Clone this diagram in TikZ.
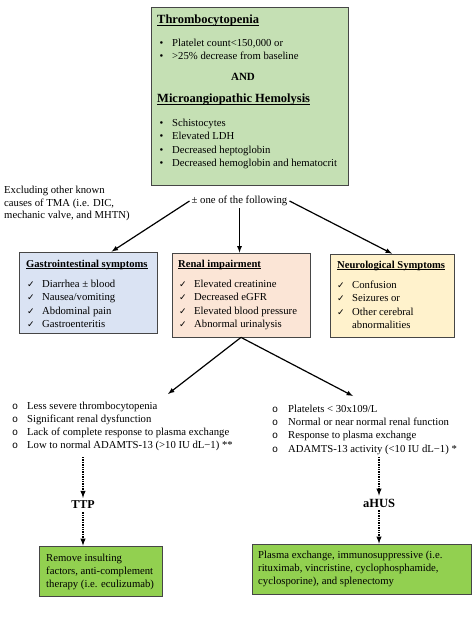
\documentclass[tikz,border=0pt]{standalone}
\usepackage{fontspec}
\setmainfont{Liberation Serif}
\newfontfamily\chkfont{DejaVu Sans}
\newfontfamily\circfont{Liberation Mono}
\definecolor{CritGreen}{RGB}{197,224,180}
\definecolor{GiBlue}{RGB}{218,227,243}
\definecolor{RenalPeach}{RGB}{251,229,214}
\definecolor{NeuroYellow}{RGB}{255,242,204}
\definecolor{TxGreen}{RGB}{146,208,80}
\definecolor{BoxLine}{RGB}{70,70,70}
\usetikzlibrary{shapes,arrows}
\newcommand{\ulhead}[1]{\setbox0=\hbox{#1}\rlap{\rule[-1.4pt]{\wd0}{0.7pt}}\box0}

\begin{document}
\begin{tikzpicture}[x=1pt,y=-1pt]
				\tikzstyle{every node}=[inner sep=0pt, font=\fontsize{10.7}{13}\selectfont];
				\tikzstyle{box}=[draw=BoxLine, line width=0.8pt, shape=rectangle];
				\tikzstyle{txt}=[anchor=base west];
				\tikzstyle{head}=[anchor=base west, font=\fontsize{10.6}{13}\selectfont\bfseries];
				\tikzstyle{big}=[anchor=base west, font=\fontsize{12.5}{15}\selectfont\bfseries];
				\tikzstyle{chk}=[anchor=base west, font=\fontsize{9}{13}\selectfont\chkfont];
				\tikzstyle{circ}=[anchor=base west, font=\fontsize{10}{13}\selectfont\circfont];
				\tikzstyle{arr}=[-latex, line width=1.2pt];
				\tikzstyle{dotarr}=[-latex, line width=1.4pt, densely dotted];
				\useasboundingbox (0,0) rectangle (474,620);
				\node [box, fill=CritGreen, minimum width=197, minimum height=178] (crit) at (249.5,96) {};
				\node [big] (h1) at (157,24) {\ulhead{Thrombocytopenia}};
				\node [txt] (b11) at (159.5,47) {•};
				\node [txt] (p11) at (172,47) {Platelet count<150,000 or};
				\node [txt] (b12) at (159.5,60) {•};
				\node [txt] (p12) at (172,60) {>25\% decrease from baseline};
				\node [anchor=base, font=\fontsize{11}{13}\selectfont\bfseries] (and) at (243,81) {AND};
				\node [big] (h2) at (157,103) {\ulhead{Microangiopathic Hemolysis}};
				\node [txt] (b21) at (159.5,127) {•};
				\node [txt] (p21) at (172,127) {Schistocytes};
				\node [txt] (b22) at (159.5,140) {•};
				\node [txt] (p22) at (172,140) {Elevated LDH};
				\node [txt] (b23) at (159.5,153.5) {•};
				\node [txt] (p23) at (172,153.5) {Decreased heptoglobin};
				\node [txt] (b24) at (159.5,167) {•};
				\node [txt] (p24) at (172,167) {Decreased hemoglobin and hematocrit};
				\node [anchor=north west, align=left, font=\fontsize{10.7}{12.5}\selectfont] (note) at (4,186) {Excluding other known\\causes of TMA (i.e. DIC,\\mechanic valve, and MHTN)};
				\node [inner sep=2pt] (one) at (239.5,201) {± one of the following};
				\node [box, fill=GiBlue, minimum width=138, minimum height=81] (gi) at (88,292.5) {};
				\node [head] (gih) at (26,267) {\ulhead{Gastrointestinal symptoms}};
				\node [chk] (gc1) at (27,287) {✓};
				\node [txt] (gi1) at (42,287) {Diarrhea ± blood};
				\node [chk] (gc2) at (27,300) {✓};
				\node [txt] (gi2) at (42,300) {Nausea/vomiting};
				\node [chk] (gc3) at (27,314) {✓};
				\node [txt] (gi3) at (42,314) {Abdominal pain};
				\node [chk] (gc4) at (27,327) {✓};
				\node [txt] (gi4) at (42,327) {Gastroenteritis};
				\node [box, fill=RenalPeach, minimum width=138, minimum height=84] (renal) at (241,295) {};
				\node [head] (reh) at (178,267) {\ulhead{Renal impairment}};
				\node [chk] (rc1) at (179,287) {✓};
				\node [txt] (re1) at (194,287) {Elevated creatinine};
				\node [chk] (rc2) at (179,300) {✓};
				\node [txt] (re2) at (194,300) {Decreased eGFR};
				\node [chk] (rc3) at (179,314) {✓};
				\node [txt] (re3) at (194,314) {Elevated blood pressure};
				\node [chk] (rc4) at (179,327) {✓};
				\node [txt] (re4) at (194,327) {Abnormal urinalysis};
				\node [box, fill=NeuroYellow, minimum width=124, minimum height=83] (neuro) at (392,295.5) {};
				\node [head] (neh) at (337,268) {\ulhead{Neurological Symptoms}};
				\node [chk] (nc1) at (337,288) {✓};
				\node [txt] (ne1) at (352,288) {Confusion};
				\node [chk] (nc2) at (337,301) {✓};
				\node [txt] (ne2) at (352,301) {Seizures or};
				\node [chk] (nc3) at (337,315) {✓};
				\node [txt] (ne3) at (352,315) {Other cerebral};
				\node [txt] (ne4) at (352,328) {abnormalities};
				\draw[arr] (one.west) -- (gi.60);
				\draw[arr] (one.south) -- (one.south |- renal.north);
				\draw[arr] (one.east) -- (neuro.north);
				\coordinate (ttpin) at (168,394);
				\coordinate (husin) at (353,396);
				\draw[arr] (renal.south) -- (ttpin);
				\draw[arr] (renal.south) -- (husin);
				\node [circ] (lo1) at (12,409) {o};
				\node [txt] (l1) at (27,409) {Less severe thrombocytopenia};
				\node [circ] (lo2) at (12,422) {o};
				\node [txt] (l2) at (27,422) {Significant renal dysfunction};
				\node [circ] (lo3) at (12,435) {o};
				\node [txt] (l3) at (27,435) {Lack of complete response to plasma exchange};
				\node [circ] (lo4) at (12,448) {o};
				\node [txt] (l4) at (27,448) {Low to normal ADAMTS-13 (>10 IU dL−1) **};
				\node [circ] (ro1) at (272,412) {o};
				\node [txt] (r1) at (288,412) {Platelets < 30x109/L};
				\node [circ] (ro2) at (272,425) {o};
				\node [txt] (r2) at (288,425) {Normal or near normal renal function};
				\node [circ] (ro3) at (272,438) {o};
				\node [txt] (r3) at (288,438) {Response to plasma exchange};
				\node [circ] (ro4) at (272,452) {o};
				\node [txt] (r4) at (288,452) {ADAMTS-13 activity (<10 IU dL−1) *};
				\coordinate (ttptop) at (83,457);
				\coordinate (hustop) at (379,457);
				\node [inner sep=3pt, font=\fontsize{12}{14}\selectfont\bfseries] (ttp) at (83,505) {TTP};
				\node [inner sep=3pt, font=\fontsize{12.5}{14}\selectfont\bfseries] (ahus) at (379,503) {aHUS};
				\node [box, fill=TxGreen, minimum width=123, minimum height=50] (ttpbox) at (100.5,571) {};
				\node [box, fill=TxGreen, minimum width=219, minimum height=50] (husbox) at (361.5,569) {};
				\draw[dotarr] (ttptop) -- (ttp.north);
				\draw[dotarr] (ttp.south) -- (ttp.south |- ttpbox.north);
				\draw[dotarr] (hustop) -- (ahus.north);
				\draw[dotarr] (ahus.south) -- (ahus.south |- husbox.north);
				\node [anchor=north west, align=left] (ttptx) at (46,554) {Remove insulting\\factors, anti-complement\\therapy (i.e. eculizumab)};
				\node [anchor=north west, align=left] (hustx) at (258,551) {Plasma exchange, immunosuppressive (i.e.\\rituximab, vincristine, cyclophosphamide,\\cyclosporine), and splenectomy};
\end{tikzpicture}
\end{document}
